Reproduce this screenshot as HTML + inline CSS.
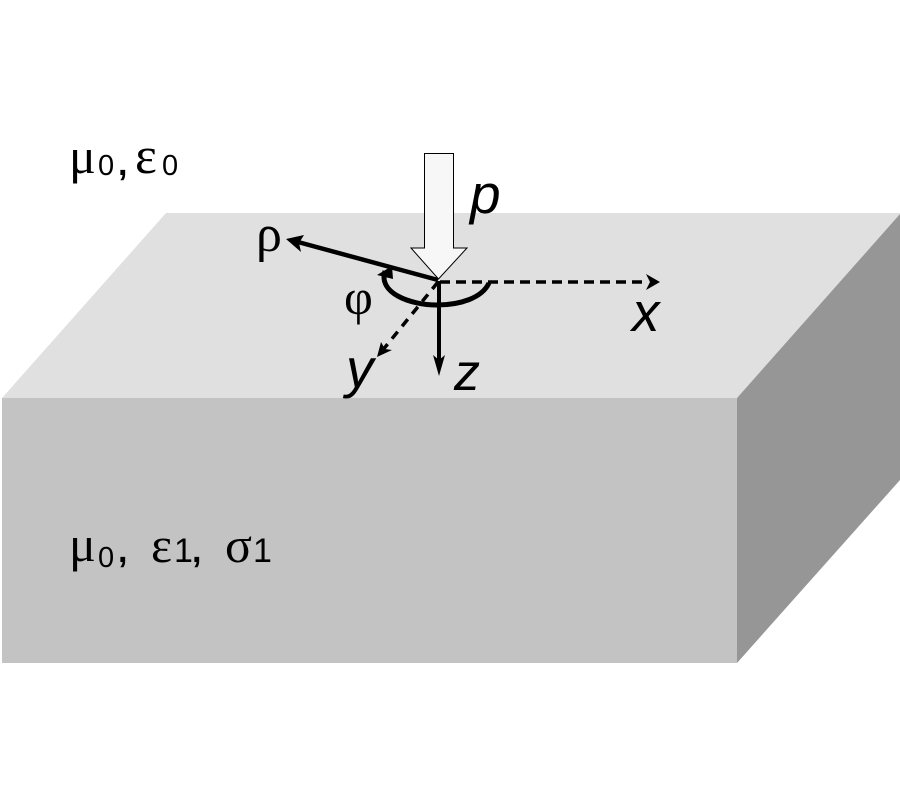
<!DOCTYPE html>
<html><head><meta charset="utf-8"><style>html,body{margin:0;padding:0;background:#fff}svg{display:block}</style></head>
<body>
<svg xmlns="http://www.w3.org/2000/svg" width="900" height="800" viewBox="0 0 900 800">
<rect width="900" height="800" fill="#fff"/>
<polygon points="166,213 900,213 900,214 737,398 2,398" fill="#e0e0e0"/>
<rect x="2" y="398" width="735" height="265" fill="#c3c3c3"/>
<polygon points="737,398 900,214 900,480 737,663" fill="#969696"/>
<!-- dashed axes -->
<line x1="440" y1="282" x2="648" y2="282" stroke="#000" stroke-width="3.5" stroke-dasharray="10 6"/>
<polygon points="660,282 646,274 650,282 646,290" fill="#000"/>
<line x1="438" y1="282" x2="382" y2="351" stroke="#000" stroke-width="3.5" stroke-dasharray="9 7"/>
<polygon points="377,357 381,342 385,349 392,350" fill="#000"/>
<!-- rho -->
<line x1="438" y1="280" x2="298" y2="242" stroke="#000" stroke-width="4.5"/>
<polygon points="286,239 304,235 299,243 301,252" fill="#000"/>
<!-- z -->
<line x1="439" y1="281" x2="439" y2="364" stroke="#000" stroke-width="4"/>
<polygon points="439,376 433,355 439,360 445,355" fill="#000"/>
<!-- arc -->
<path d="M489,283 C482,298 460,305 437,305 C410,305 378,293 385,271" fill="none" stroke="#000" stroke-width="5"/>
<polygon points="392,266 377,275 393,279" fill="#000"/>
<!-- p arrow -->
<polygon points="424.5,153.5 453.5,153.5 453.5,248 467,248 438.5,279 411,248 424.5,248" fill="#f7f7f7" stroke="#000" stroke-width="1"/>
<!-- labels -->
<g font-family="'Liberation Sans',sans-serif" font-style="italic" font-size="55" fill="#000">
<text x="470" y="213">p</text>
<text x="632" y="331">x</text>
<text x="346" y="387">y</text>
<text x="454" y="390" font-size="52">z</text>
</g>
<g font-family="'Liberation Serif',serif" fill="#000">
<text x="256" y="251" font-size="52">ρ</text>
<text x="344" y="314" font-size="50">φ</text>
</g>
<g font-family="'Liberation Serif',serif" fill="#000">
<text x="69" y="173" font-size="50">μ</text>
<text x="135" y="173" font-size="52">ε</text>
<text x="69" y="561" font-size="50">μ</text>
<text x="151" y="562" font-size="50">ε</text>
<text x="225" y="562" font-size="50">σ</text>
</g>
<g font-family="'Liberation Sans',sans-serif" font-size="29" fill="#000">
<text x="98" y="175">0</text>
<text x="118" y="175" font-size="34" font-weight="bold">,</text>
<text x="162" y="175">0</text>
<text x="98" y="567">0</text>
<text x="118" y="562" font-size="34" font-weight="bold">,</text>
<text x="174" y="562" font-size="34">1</text>
<text x="192" y="562" font-size="34" font-weight="bold">,</text>
<text x="253" y="562" font-size="34">1</text>
</g>
</svg>
</body></html>
